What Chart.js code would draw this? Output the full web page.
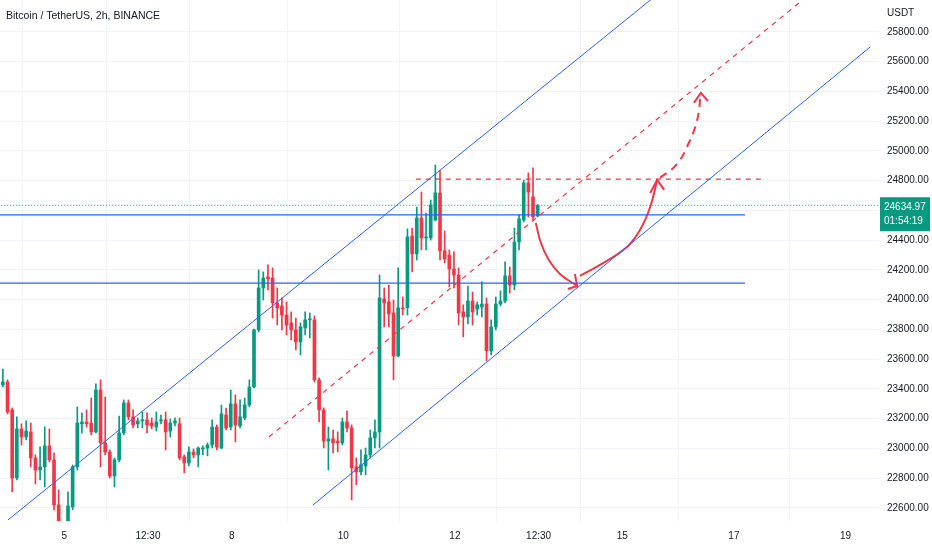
<!DOCTYPE html>
<html>
<head>
<meta charset="utf-8">
<title>BTCUSDT 2h</title>
<script src="https://cdn.jsdelivr.net/npm/chart.js@4.4.0/dist/chart.umd.min.js"></script>
<style>
  html, body { margin: 0; padding: 0; background: #ffffff; }
  #wrap { position: relative; width: 932px; height: 550px; }
</style>
</head>
<body>
<div id="wrap"><canvas id="chart" width="932" height="550"></canvas></div>
<script>
// 2h candles, BTC / USDT (Binance). index 0 = first full candle on screen
const firstIndex = -1;
const opens = [23339, 23427, 23447, 23259, 22802, 23131, 23077, 23111, 22936, 22855, 22876, 23017, 22923, 22620, 22440, 22420, 22607, 22876, 23165, 23178,
  23171, 23111, 23393, 23037, 22976, 22815, 22923, 23104, 23306, 23212, 23165, 23185, 23192, 23171, 23144, 23185, 23192, 23117, 23171, 23165,
  22943, 22902, 22976, 22956, 22997, 23003, 23023, 23144, 23003, 23225, 23144, 23299, 23151, 23205, 23292, 23413, 23797, 24079, 24153, 24146,
  23978, 23958, 23897, 23844, 23797, 23716, 23810, 23864, 23864, 23461, 23259, 23050, 23064, 23050, 23037, 23178, 23138, 22876, 22842, 22882,
  22956, 23071, 23111, 24005, 23985, 23911, 23622, 23945, 23945, 24428, 24308, 24550, 24415, 24415, 24536, 24718, 24328, 24300, 24207, 24166,
  23918, 23884, 23991, 23938, 23951, 23971, 23656, 23817, 23971, 23991, 24160, 24099, 24388, 24536, 24785, 24691, 24563];
const highs = [23474, 23534, 23461, 23272, 23212, 23165, 23185, 23171, 22956, 23010, 23144, 23131, 22970, 22721, 22480, 22708, 22889, 23279, 23239, 23259,
  23339, 23434, 23461, 23346, 22990, 22936, 23218, 23326, 23326, 23259, 23205, 23245, 23239, 23205, 23245, 23225, 23245, 23198, 23205, 23205,
  22956, 23010, 22997, 23010, 23017, 23037, 23192, 23158, 23292, 23272, 23393, 23360, 23326, 23339, 23461, 23803, 24200, 24187, 24234, 24214,
  24079, 24012, 23985, 23918, 23877, 23844, 23918, 23911, 23891, 23474, 23272, 23144, 23124, 23111, 23205, 23252, 23158, 22936, 22990, 23003,
  23124, 23192, 24166, 24079, 24099, 23998, 24214, 24018, 24476, 24482, 24623, 24724, 24583, 24670, 24906, 24872, 24462, 24334, 24321, 24214,
  23965, 24092, 24052, 23985, 24120, 24012, 23864, 24018, 24059, 24254, 24220, 24482, 24570, 24805, 24852, 24886, 24640];
const lows = [23313, 23413, 23232, 22708, 22788, 23023, 23057, 22876, 22761, 22788, 22741, 22909, 22587, 22385, 22330, 22380, 22587, 22855, 23104, 23144,
  23091, 23104, 22876, 22956, 22802, 22741, 22909, 23091, 23192, 23138, 23138, 23138, 23104, 23131, 23117, 23165, 22990, 23077, 23151, 22923,
  22835, 22882, 22936, 22876, 22956, 22950, 23003, 22990, 22997, 23124, 23124, 23044, 23138, 23192, 23279, 23407, 23783, 23998, 24066, 23877,
  23830, 23797, 23763, 23729, 23662, 23629, 23763, 23743, 23447, 23178, 23003, 22855, 22970, 22976, 23023, 23111, 22654, 22755, 22822, 22822,
  22936, 23003, 23003, 23817, 23817, 23461, 23616, 23897, 23897, 24187, 24267, 24334, 24334, 24401, 24530, 24267, 24247, 24086, 24079, 23830,
  23750, 23837, 23830, 23897, 23884, 23589, 23629, 23797, 23958, 23978, 24045, 24066, 24334, 24523, 24556, 24536, 24556];
const closes = [23440, 23447, 23245, 22802, 23131, 23077, 23117, 22936, 22855, 22876, 23017, 22923, 22620, 22452, 22380, 22613, 22876, 23171, 23178, 23165,
  23111, 23393, 23037, 22976, 22815, 22923, 23104, 23306, 23212, 23158, 23185, 23192, 23158, 23151, 23178, 23192, 23111, 23171, 23185, 22936,
  22902, 22976, 22956, 23003, 23003, 23023, 23144, 23010, 23232, 23138, 23299, 23158, 23212, 23292, 23413, 23797, 24079, 24146, 24140, 23978,
  23945, 23897, 23830, 23797, 23716, 23817, 23864, 23871, 23461, 23259, 23050, 23064, 23037, 23037, 23178, 23138, 22869, 22842, 22889, 22956,
  23071, 23111, 24012, 23978, 23904, 23622, 23945, 23938, 24422, 24308, 24550, 24415, 24422, 24637, 24718, 24328, 24274, 24207, 24166, 23911,
  23884, 23991, 23918, 23965, 23971, 23656, 23817, 23971, 23991, 24160, 24099, 24388, 24543, 24785, 24724, 24556, 24635];

const lastPrice = 24634.97;
const countdown = '01:54:19';

// axis
const priceTicks = [22600, 22800, 23000, 23200, 23400, 23600, 23800, 24000, 24200, 24400, 24600, 24800, 25000, 25200, 25400, 25600, 25800];
const dayTickIndex = [13.2, 31.2, 49.2, 73.2, 97.2, 115.2, 133.2, 157.2, 181.2];
const dayLabels = ['5', '12:30', '8', '10', '12', '12:30', '15', '17', '19'];

// drawings (candle index, price)
const upperChannel = [{x: 1.1, y: 22519}, {x: 142, y: 26085}];
const lowerChannel = [{x: 66.7, y: 22620}, {x: 186.5, y: 25699}];
const midChannel = [{x: 57.2, y: 23077}, {x: 174, y: 26067}];
const resistanceHigh = [{x: -1, y: 24570}, {x: 159.6, y: 24570}];
const supportLow = [{x: -1, y: 24111}, {x: 159.6, y: 24111}];
const topDashed = [{x: 88.8, y: 24810}, {x: 163.2, y: 24810}];
const dropCurve = [{x: 114.6, y: 24516}, {x: 115.7, y: 24381}, {x: 117.4, y: 24267}, {x: 119.8, y: 24173}, {x: 123.5, y: 24092}];
const dropHead = [{x: 121.5, y: 24072}, {x: 123.5, y: 24092}, {x: 123.0, y: 24173}];
const bounceCurve = [{x: 124.1, y: 24160}, {x: 128.4, y: 24234}, {x: 134.2, y: 24355}, {x: 137.0, y: 24469}, {x: 139.2, y: 24623}, {x: 140.7, y: 24805}];
const bounceHead = [{x: 139.2, y: 24718}, {x: 140.7, y: 24805}, {x: 142.2, y: 24738}];
const breakCurve = [{x: 141.3, y: 24819}, {x: 144.8, y: 24906}, {x: 147.3, y: 25040}, {x: 149.3, y: 25208}, {x: 150.1, y: 25390}];
const breakHead = [{x: 148.6, y: 25323}, {x: 150.1, y: 25390}, {x: 151.6, y: 25336}];

const UP = '#089981';
const DOWN = '#f23645';
const BLUE = '#2962ff';
const FONT = '"Liberation Sans", Arial, sans-serif';

const candleColors = opens.map((o, i) => closes[i] >= o ? UP : DOWN);
const bodies = opens.map((o, i) => ({x: i + firstIndex, y: [o, closes[i]]}));
const wicks = opens.map((o, i) => ({x: i + firstIndex, y: [lows[i], highs[i]]}));

function drawing(data, color, width, dash, tension) {
  return {
    type: 'line', data: data, borderColor: color, borderWidth: width,
    borderDash: dash || [], tension: tension || 0, pointRadius: 0, order: 0
  };
}

// scales should use the whole canvas, no extra label padding
function noPadding(s) {
  s.paddingTop = 0;
  s.paddingBottom = 0;
  s.paddingLeft = 0;
  s.paddingRight = 0;
}

const overlay = {
  id: 'overlay',
  afterDraw(chart) {
    const ctx = chart.ctx;
    const y = chart.scales.y;
    const area = chart.chartArea;
    ctx.save();
    ctx.fillStyle = '#131722';
    ctx.textBaseline = 'middle';
    ctx.textAlign = 'left';
    ctx.font = '10.5px ' + FONT;
    ctx.fillText('Bitcoin / TetherUS, 2h, BINANCE', 6, 16);
    ctx.font = '10px ' + FONT;
    ctx.fillText('USDT', area.right + 8, 13);
    // last price label
    const py = y.getPixelForValue(lastPrice);
    ctx.fillStyle = UP;
    ctx.fillRect(area.right + 1, py - 8, 50, 34);
    ctx.fillStyle = '#ffffff';
    ctx.fillText(lastPrice.toFixed(2), area.right + 5, py + 2);
    ctx.fillText(countdown, area.right + 5, py + 16);
    ctx.restore();
  }
};

new Chart(document.getElementById('chart'), {
  type: 'bar',
  data: {
    datasets: [
      drawing(upperChannel, BLUE, 1),
      drawing(lowerChannel, BLUE, 1),
      drawing(midChannel, DOWN, 1.2, [5, 5]),
      drawing(resistanceHigh, BLUE, 1.3),
      drawing(supportLow, BLUE, 1.3),
      drawing(topDashed, DOWN, 1.2, [5, 5]),
      drawing([{x: -1, y: lastPrice}, {x: 189, y: lastPrice}], UP, 1, [1, 2]),
      drawing(dropCurve, DOWN, 2, [], 0.4),
      drawing(dropHead, DOWN, 2),
      drawing(bounceCurve, DOWN, 2, [], 0.4),
      drawing(bounceHead, DOWN, 2),
      drawing(breakCurve, DOWN, 2, [8, 6], 0.4),
      drawing(breakHead, DOWN, 2),
      {
        label: 'body', data: bodies, backgroundColor: candleColors,
        barThickness: 3, minBarLength: 1, grouped: false, order: 1
      },
      {
        label: 'wick', data: wicks, backgroundColor: candleColors,
        barThickness: 1, grouped: false, order: 2
      }
    ]
  },
  options: {
    responsive: false,
    animation: false,
    events: [],
    layout: { padding: 0 },
    plugins: { legend: { display: false }, tooltip: { enabled: false } },
    scales: {
      x: {
        type: 'linear', min: -0.62, max: 188.4, offset: false,
        afterBuildTicks: s => { s.ticks = dayTickIndex.map(v => ({ value: v })); },
        afterFit: s => { s.height = 29; noPadding(s); },
        ticks: {
          autoSkip: false, maxRotation: 0, padding: 9, color: '#131722',
          font: { family: FONT, size: 10 },
          callback: (v, i) => dayLabels[i]
        },
        grid: { color: '#f0f3fa', drawTicks: false },
        border: { display: false }
      },
      y: {
        position: 'right', min: 22512, max: 26015,
        afterBuildTicks: s => { s.ticks = priceTicks.map(v => ({ value: v })); },
        afterFit: s => { s.width = 53; noPadding(s); },
        ticks: {
          padding: 8, color: '#131722',
          font: { family: FONT, size: 10 },
          callback: v => v.toFixed(2)
        },
        grid: { color: '#f0f3fa', drawTicks: false },
        border: { display: false }
      }
    }
  },
  plugins: [overlay]
});
</script>
</body>
</html>
